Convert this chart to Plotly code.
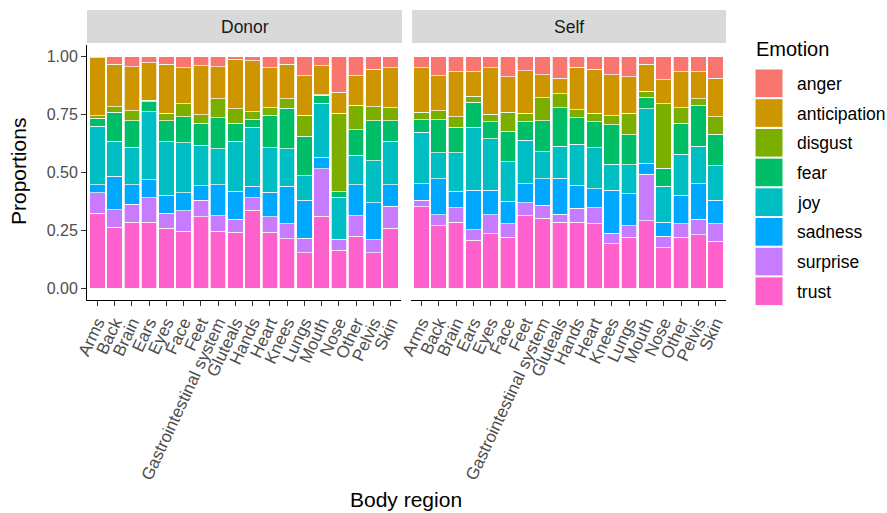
import plotly.graph_objects as go

# Body regions on the x axis (same order in both panels)
regions = ["Arms", "Back", "Brain", "Ears", "Eyes", "Face", "Feet",
           "Gastrointestinal system", "Gluteals", "Hands", "Heart", "Knees",
           "Lungs", "Mouth", "Nose", "Other", "Pelvis", "Skin"]

emotions = ["anger", "anticipation", "disgust", "fear", "joy", "sadness", "surprise", "trust"]
emotion_colors = ["#F8766D", "#CD9600", "#7CAE00", "#00BE67",
                  "#00BFC4", "#00A9FF", "#C77CFF", "#FF61CC"]

# Proportion of each emotion per body region -- Donor
donor_anger        = [.004, .032, .043, .027, .033, .049, .040, .043, .011, .017, .049, .032, .082, .039, .154, .082, .055, .049]
donor_anticipation = [.253, .184, .190, .162, .211, .155, .210, .139, .214, .221, .172, .151, .172, .125, .091, .128, .161, .172]
donor_disgust      = [.009, .023, .043, .006, .032, .055, .037, .082, .062, .033, .033, .039, .089, .004, .340, .106, .060, .055]
donor_fear         = [.036, .126, .116, .043, .091, .112, .095, .134, .078, .034, .139, .177, .171, .034, .024, .111, .172, .089]
donor_joy          = [.254, .151, .161, .293, .231, .216, .175, .155, .216, .253, .193, .161, .105, .233, .181, .126, .182, .188]
donor_sadness      = [.033, .144, .085, .078, .079, .078, .062, .134, .121, .050, .105, .161, .165, .050, .002, .134, .159, .093]
donor_surprise     = [.090, .076, .076, .105, .065, .089, .072, .066, .056, .055, .066, .066, .062, .205, .045, .088, .056, .095]
donor_trust        = [.325, .264, .286, .286, .259, .247, .309, .247, .243, .336, .243, .214, .154, .313, .165, .226, .154, .259]

# Proportion of each emotion per body region -- Self
self_anger        = [.049, .082, .066, .066, .049, .088, .060, .078, .093, .047, .055, .078, .088, .033, .099, .066, .066, .093]
self_anticipation = [.190, .151, .194, .105, .200, .151, .184, .099, .068, .184, .190, .177, .157, .116, .105, .155, .116, .167]
self_disgust      = [.033, .039, .045, .027, .033, .083, .037, .099, .060, .033, .037, .039, .092, .027, .277, .066, .027, .076]
self_fear         = [.055, .144, .111, .106, .072, .132, .079, .134, .165, .116, .112, .172, .129, .050, .078, .134, .177, .134]
self_joy          = [.221, .111, .165, .272, .223, .171, .187, .116, .139, .177, .177, .111, .126, .233, .155, .177, .161, .149]
self_sadness      = [.072, .155, .072, .171, .105, .095, .083, .116, .155, .099, .082, .187, .138, .049, .060, .122, .155, .101]
self_surprise     = [.027, .049, .062, .045, .082, .060, .056, .055, .033, .062, .068, .045, .050, .200, .050, .060, .066, .076]
self_trust        = [.353, .270, .286, .208, .237, .220, .313, .303, .286, .286, .280, .193, .220, .292, .175, .220, .231, .204]

panels = [
    ("Donor", "x", "y", [donor_anger, donor_anticipation, donor_disgust, donor_fear,
                         donor_joy, donor_sadness, donor_surprise, donor_trust]),
    ("Self", "x2", "y2", [self_anger, self_anticipation, self_disgust, self_fear,
                          self_joy, self_sadness, self_surprise, self_trust]),
]

W, H = 887, 513
def px_x(v): return v / W
def px_y(v): return 1 - v / H

fig = go.Figure()

# stack from the bottom: trust first, anger on top
for name, xa, ya, series in panels:
    for emo, col, vals in reversed(list(zip(emotions, emotion_colors, series))):
        fig.add_trace(go.Bar(
            x=regions, y=vals, name=emo, xaxis=xa, yaxis=ya,
            marker=dict(color=col, line=dict(color="white", width=0.7)),
            width=0.9, showlegend=False,
        ))

font_family = "Liberation Sans, Arial, sans-serif"
tick_font = dict(family=font_family, size=16, color="#4D4D4D")
xtick_font = dict(family=font_family, size=17, color="#4D4D4D")

dom_donor = [px_x(87), px_x(401)]
dom_self = [px_x(411), px_x(726)]
dom_y = [px_y(300), px_y(45)]

xaxis_common = dict(
    type="category", categoryorder="array", categoryarray=regions,
    tickmode="array", tickvals=regions, ticktext=regions,
    range=[-0.6, len(regions) - 0.4], showgrid=False, zeroline=False,
    showline=True, linecolor="#000000", linewidth=1,
    ticks="outside", ticklen=5, tickcolor="#333333", tickwidth=1,
    tickangle=-65, tickfont=xtick_font, automargin=False,
)
yaxis_common = dict(
    range=[-0.05, 1.05], showgrid=False, zeroline=False,
    tickvals=[0, 0.25, 0.5, 0.75, 1.0],
    ticktext=["0.00", "0.25", "0.50", "0.75", "1.00"],
    automargin=False, domain=dom_y,
)

fig.update_layout(
    width=W, height=H,
    margin=dict(l=0, r=0, t=0, b=0),
    paper_bgcolor="white", plot_bgcolor="white",
    barmode="stack", barnorm="fraction", bargap=0.1,
    xaxis=dict(xaxis_common, domain=dom_donor, anchor="y"),
    xaxis2=dict(xaxis_common, domain=dom_self, anchor="y2"),
    yaxis=dict(yaxis_common, anchor="x", showline=True, linecolor="#000000",
               linewidth=1, ticks="outside", ticklen=5, tickcolor="#333333",
               tickfont=tick_font),
    yaxis2=dict(yaxis_common, anchor="x2", matches="y", showline=False,
                showticklabels=False, ticks=""),
    showlegend=False,
)

shapes = []
annotations = []

# facet strips
for label, dom in [("Donor", [px_x(87), px_x(402)]), ("Self", [px_x(412), px_x(726)])]:
    shapes.append(dict(type="rect", xref="paper", yref="paper",
                       x0=dom[0], x1=dom[1], y0=px_y(43), y1=px_y(10),
                       fillcolor="#D9D9D9", line=dict(width=0)))
    annotations.append(dict(text=label, xref="paper", yref="paper",
                            x=(dom[0] + dom[1]) / 2, y=px_y(27),
                            xanchor="center", yanchor="middle", showarrow=False,
                            font=dict(family=font_family, size=17.5, color="#1A1A1A")))

# axis titles
annotations.append(dict(text="Proportions", xref="paper", yref="paper",
                        x=px_x(18), y=px_y(172), textangle=-90,
                        xanchor="center", yanchor="middle", showarrow=False,
                        font=dict(family=font_family, size=21, color="#000000")))
annotations.append(dict(text="Body region", xref="paper", yref="paper",
                        x=px_x(406), y=px_y(499),
                        xanchor="center", yanchor="middle", showarrow=False,
                        font=dict(family=font_family, size=21, color="#000000")))

# legend
annotations.append(dict(text="Emotion", xref="paper", yref="paper",
                        x=px_x(754), y=px_y(49), xanchor="left", yanchor="middle",
                        showarrow=False,
                        font=dict(family=font_family, size=20, color="#000000")))
key_top, key_step = 69, 29.7
for i, (emo, col) in enumerate(zip(emotions, emotion_colors)):
    y0 = key_top + i * key_step
    shapes.append(dict(type="rect", xref="paper", yref="paper",
                       x0=px_x(755), x1=px_x(783), y0=px_y(y0 + key_step - 1), y1=px_y(y0),
                       fillcolor=col, line=dict(color="white", width=1)))
    annotations.append(dict(text=emo, xref="paper", yref="paper",
                            x=px_x(795), y=px_y(y0 + key_step / 2), xanchor="left",
                            yanchor="middle", showarrow=False,
                            font=dict(family=font_family, size=17.5, color="#000000")))

fig.update_layout(shapes=shapes, annotations=annotations)

fig.write_html("out.html")
